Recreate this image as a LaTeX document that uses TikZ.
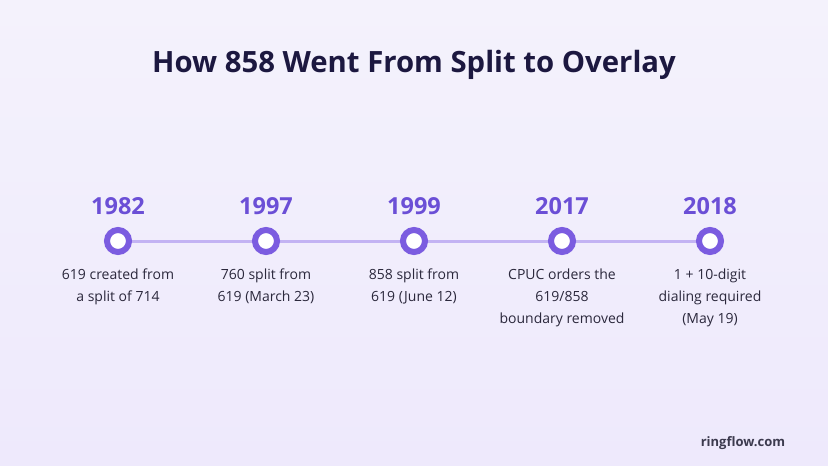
\documentclass[tikz,border=0pt]{standalone}
\usepackage{fontspec}
\setmainfont{Open Sans}
\definecolor{bgtop}{HTML}{F4F2FC}
\definecolor{bgbot}{HTML}{EEE9FC}
\definecolor{titlec}{HTML}{1C1840}
\definecolor{yearc}{HTML}{6B4FD6}
\definecolor{dotc}{HTML}{7B5CE0}
\definecolor{linec}{HTML}{C3B3F3}
\definecolor{descc}{HTML}{2B283C}
\definecolor{brandc}{HTML}{3C3A4E}
\tikzset{
  year/.style={font=\bfseries\fontsize{23.5}{27}\selectfont, text=yearc, anchor=base},
  desc/.style={font=\fontsize{14}{22}\selectfont, text=descc, align=center, anchor=north, inner sep=0pt},
  dotnode/.style={circle, fill=white, draw=dotc, line width=6pt, minimum size=22pt, inner sep=0pt},
}
\begin{document}
\begin{tikzpicture}[x=1pt,y=-1pt]
\useasboundingbox (0,0) rectangle (828,466);
\shade[top color=bgtop, bottom color=bgbot] (0,0) rectangle (828,466);
\node[font=\bfseries\fontsize{29.3}{34}\selectfont, text=titlec, anchor=base] (title) at (414,72) {How 858 Went From Split to Overlay};
\foreach \i/\x in {1/118,2/266,3/414,4/562,5/710}{
  \coordinate (c\i) at (\x,241);
}
\foreach \a/\b in {1/2,2/3,3/4,4/5}{
  \draw[linec, line width=3pt] (c\a) -- (c\b);
}
\foreach \i/\x/\yr in {1/118/1982,2/266/1997,3/414/1999,4/562/2017,5/710/2018}{
  \node[year] (y\i) at (\x,214) {\yr};
  \node[dotnode] (d\i) at (c\i) {};
}
\node[desc] (t1) at (118,269) {619 created from\\a split of 714};
\node[desc] (t2) at (266,269) {760 split from\\619 (March 23)};
\node[desc] (t3) at (414,269) {858 split from\\619 (June 12)};
\node[desc] (t4) at (562,269) {CPUC orders the\\619/858\\boundary removed};
\node[desc] (t5) at (710,269) {1 + 10-digit\\dialing required\\(May 19)};
\node[font=\bfseries\fontsize{13}{16}\selectfont, text=brandc, anchor=base] (brand) at (743,446) {ringflow.com};
\end{tikzpicture}
\end{document}
